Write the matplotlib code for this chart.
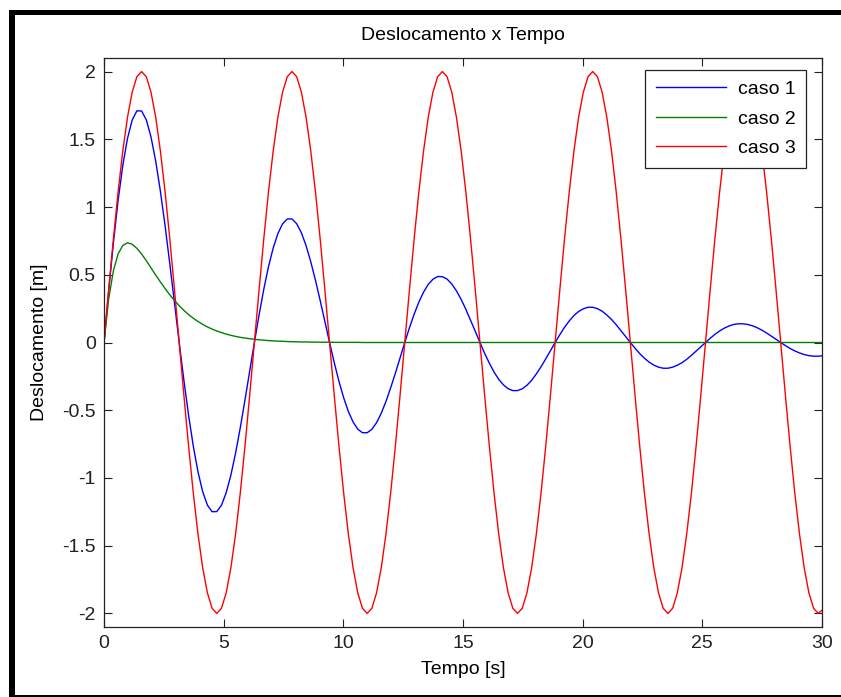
import matplotlib
matplotlib.use("Agg")
import matplotlib.pyplot as plt
from matplotlib.patches import Rectangle

plt.rcParams['font.family'] = ['Liberation Sans', 'DejaVu Sans']

# tempo [s]
t = [0.000, 0.196, 0.393, 0.589, 0.785, 0.982, 1.178, 1.374, 1.571, 1.767,
     1.963, 2.160, 2.356, 2.553, 2.749, 2.945, 3.142, 3.338, 3.534, 3.731,
     3.927, 4.123, 4.320, 4.516, 4.712, 4.909, 5.105, 5.301, 5.498, 5.694,
     5.890, 6.087, 6.283, 6.480, 6.676, 6.872, 7.069, 7.265, 7.461, 7.658,
     7.854, 8.050, 8.247, 8.443, 8.639, 8.836, 9.032, 9.228, 9.425, 9.621,
     9.817, 10.014, 10.210, 10.407, 10.603, 10.799, 10.996, 11.192, 11.388, 11.585,
     11.781, 11.977, 12.174, 12.370, 12.566, 12.763, 12.959, 13.155, 13.352, 13.548,
     13.744, 13.941, 14.137, 14.334, 14.530, 14.726, 14.923, 15.119, 15.315, 15.512,
     15.708, 15.904, 16.101, 16.297, 16.493, 16.690, 16.886, 17.082, 17.279, 17.475,
     17.671, 17.868, 18.064, 18.261, 18.457, 18.653, 18.850, 19.046, 19.242, 19.439,
     19.635, 19.831, 20.028, 20.224, 20.420, 20.617, 20.813, 21.009, 21.206, 21.402,
     21.598, 21.795, 21.991, 22.188, 22.384, 22.580, 22.777, 22.973, 23.169, 23.366,
     23.562, 23.758, 23.955, 24.151, 24.347, 24.544, 24.740, 24.936, 25.133, 25.329,
     25.525, 25.722, 25.918, 26.114, 26.311, 26.507, 26.704, 26.900, 27.096, 27.293,
     27.489, 27.685, 27.882, 28.078, 28.274, 28.471, 28.667, 28.863, 29.060, 29.256,
     29.452, 29.649, 29.845, 30.000]

# caso 1 - subamortecido
caso1 = [0.000, 0.383, 0.736, 1.048, 1.307, 1.507, 1.642, 1.710, 1.709, 1.644,
         1.518, 1.340, 1.117, 0.861, 0.581, 0.291, 0.000, -0.279, -0.537, -0.765,
         -0.955, -1.101, -1.200, -1.249, -1.248, -1.201, -1.109, -0.979, -0.816, -0.629,
         -0.425, -0.212, 0.000, 0.204, 0.393, 0.559, 0.697, 0.804, 0.876, 0.912,
         0.912, 0.877, 0.810, 0.715, 0.596, 0.459, 0.310, 0.155, 0.000, -0.149,
         -0.287, -0.408, -0.509, -0.587, -0.640, -0.666, -0.666, -0.641, -0.592, -0.522,
         -0.435, -0.335, -0.227, -0.113, 0.000, 0.109, 0.209, 0.298, 0.372, 0.429,
         0.467, 0.487, 0.486, 0.468, 0.432, 0.381, 0.318, 0.245, 0.165, 0.083,
         0.000, -0.080, -0.153, -0.218, -0.272, -0.313, -0.341, -0.355, -0.355, -0.342,
         -0.316, -0.279, -0.232, -0.179, -0.121, -0.060, 0.000, 0.058, 0.112, 0.159,
         0.199, 0.229, 0.249, 0.260, 0.260, 0.250, 0.231, 0.203, 0.170, 0.131,
         0.088, 0.044, 0.000, -0.042, -0.082, -0.116, -0.145, -0.167, -0.182, -0.190,
         -0.190, -0.182, -0.168, -0.149, -0.124, -0.095, -0.064, -0.032, 0.000, 0.031,
         0.060, 0.085, 0.106, 0.122, 0.133, 0.138, 0.138, 0.133, 0.123, 0.109,
         0.091, 0.070, 0.047, 0.024, 0.000, -0.023, -0.044, -0.062, -0.077, -0.089,
         -0.097, -0.101, -0.101, -0.098]

# caso 2 - criticamente amortecido
caso2 = [0.000, 0.323, 0.530, 0.654, 0.716, 0.736, 0.725, 0.695, 0.653, 0.604,
         0.551, 0.498, 0.447, 0.398, 0.352, 0.310, 0.272, 0.237, 0.206, 0.179,
         0.155, 0.134, 0.115, 0.099, 0.085, 0.073, 0.062, 0.053, 0.045, 0.038,
         0.033, 0.028, 0.024, 0.020, 0.017, 0.014, 0.012, 0.010, 0.009, 0.007,
         0.006, 0.005, 0.004, 0.004, 0.003, 0.003, 0.002, 0.002, 0.002, 0.001,
         0.001, 0.001, 0.001, 0.001, 0.001, 0.000, 0.000, 0.000, 0.000, 0.000,
         0.000, 0.000, 0.000, 0.000, 0.000, 0.000, 0.000, 0.000, 0.000, 0.000,
         0.000, 0.000, 0.000, 0.000, 0.000, 0.000, 0.000, 0.000, 0.000, 0.000,
         0.000, 0.000, 0.000, 0.000, 0.000, 0.000, 0.000, 0.000, 0.000, 0.000,
         0.000, 0.000, 0.000, 0.000, 0.000, 0.000, 0.000, 0.000, 0.000, 0.000,
         0.000, 0.000, 0.000, 0.000, 0.000, 0.000, 0.000, 0.000, 0.000, 0.000,
         0.000, 0.000, 0.000, 0.000, 0.000, 0.000, 0.000, 0.000, 0.000, 0.000,
         0.000, 0.000, 0.000, 0.000, 0.000, 0.000, 0.000, 0.000, 0.000, 0.000,
         0.000, 0.000, 0.000, 0.000, 0.000, 0.000, 0.000, 0.000, 0.000, 0.000,
         0.000, 0.000, 0.000, 0.000, 0.000, 0.000, 0.000, 0.000, 0.000, 0.000,
         0.000, 0.000, 0.000, 0.000]

# caso 3 - sem amortecimento
caso3 = [0.000, 0.390, 0.765, 1.111, 1.414, 1.663, 1.848, 1.962,
         2.000, 1.962, 1.848, 1.663, 1.414, 1.111, 0.765, 0.390,
         0.000, -0.390, -0.765, -1.111, -1.414, -1.663, -1.848, -1.962,
         -2.000, -1.962, -1.848, -1.663, -1.414, -1.111, -0.765, -0.390,
         0.000, 0.390, 0.765, 1.111, 1.414, 1.663, 1.848, 1.962,
         2.000, 1.962, 1.848, 1.663, 1.414, 1.111, 0.765, 0.390,
         0.000, -0.390, -0.765, -1.111, -1.414, -1.663, -1.848, -1.962,
         -2.000, -1.962, -1.848, -1.663, -1.414, -1.111, -0.765, -0.390,
         0.000, 0.390, 0.765, 1.111, 1.414, 1.663, 1.848, 1.962,
         2.000, 1.962, 1.848, 1.663, 1.414, 1.111, 0.765, 0.390,
         0.000, -0.390, -0.765, -1.111, -1.414, -1.663, -1.848, -1.962,
         -2.000, -1.962, -1.848, -1.663, -1.414, -1.111, -0.765, -0.390,
         0.000, 0.390, 0.765, 1.111, 1.414, 1.663, 1.848, 1.962,
         2.000, 1.962, 1.848, 1.663, 1.414, 1.111, 0.765, 0.390,
         0.000, -0.390, -0.765, -1.111, -1.414, -1.663, -1.848, -1.962,
         -2.000, -1.962, -1.848, -1.663, -1.414, -1.111, -0.765, -0.390,
         0.000, 0.390, 0.765, 1.111, 1.414, 1.663, 1.848, 1.962,
         2.000, 1.962, 1.848, 1.663, 1.414, 1.111, 0.765, 0.390,
         0.000, -0.390, -0.765, -1.111, -1.414, -1.663, -1.848, -1.962,
         -2.000, -1.976]

xticks = [0, 5, 10, 15, 20, 25, 30]
yticks = [-2, -1.5, -1, -0.5, 0, 0.5, 1, 1.5, 2]
yticklabels = ['-2', '-1.5', '-1', '-0.5', '0', '0.5', '1', '1.5', '2']

W, H = 841, 697
fig = plt.figure(figsize=(W / 100, H / 100), dpi=100)
ax = fig.add_axes([104 / W, 1 - 627 / H, (822 - 104) / W, (627 - 58) / H])

ax.plot(t, caso1, color=(0, 0, 1), lw=1.0, label='caso 1')
ax.plot(t, caso2, color=(0, 0.5, 0), lw=1.0, label='caso 2')
ax.plot(t, caso3, color=(1, 0, 0), lw=1.0, label='caso 3')

ax.set_xlim(0, 30)
ax.set_ylim(-2.1, 2.1)
ax.set_xticks(xticks)
ax.set_xticklabels([str(v) for v in xticks])
ax.set_yticks(yticks)
ax.set_yticklabels(yticklabels)
ax.tick_params(direction='in', top=True, right=True, length=6, width=0.8,
               labelsize=14, pad=6, colors='#222222')
for s in ax.spines.values():
    s.set_color('#222222')
    s.set_linewidth(0.9)

ax.set_title('Deslocamento x Tempo', fontsize=14, pad=13)
ax.set_xlabel('Tempo [s]', fontsize=14, labelpad=6)
ax.set_ylabel('Deslocamento [m]', fontsize=14, labelpad=10)

leg = ax.legend(loc='upper right', bbox_to_anchor=(806 / W, 1 - 70 / H),
                bbox_transform=fig.transFigure, borderaxespad=0, fontsize=14,
                fancybox=False, framealpha=1, edgecolor='#222222',
                handlelength=3.6, handletextpad=0.6, labelspacing=0.6,
                borderpad=0.55)
leg.get_frame().set_linewidth(0.9)

# moldura preta da captura
fig.add_artist(Rectangle((9 / W, 1 - 15 / H), (W - 9) / W, 5 / H,
                         transform=fig.transFigure, color='black', lw=0))
fig.add_artist(Rectangle((9 / W, 0), 6 / W, (H - 10) / H,
                         transform=fig.transFigure, color='black', lw=0))
fig.add_artist(Rectangle((9 / W, 0), (W - 9) / W, 2 / H,
                         transform=fig.transFigure, color='black', lw=0))

fig.savefig('out.png', dpi=100)
